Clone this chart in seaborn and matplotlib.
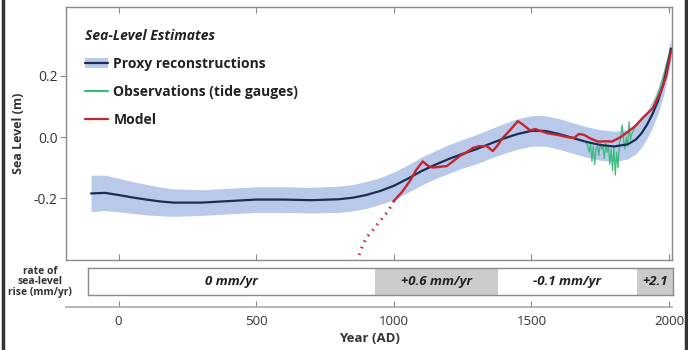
import numpy as np
import pandas as pd
import matplotlib
matplotlib.use("Agg")
import matplotlib.pyplot as plt
import seaborn as sns
from matplotlib.lines import Line2D
from matplotlib.patches import Patch

# ---------------- data ----------------
proxy_years = [-100, -50, 0, 50, 100, 150, 200, 300, 400, 500, 600, 700, 800, 850,
               900, 950, 1000, 1050, 1100, 1150, 1200, 1250, 1300, 1350, 1400,
               1450, 1500, 1550, 1600, 1650, 1700, 1750, 1800, 1850, 1880, 1900,
               1920, 1940, 1960, 1980, 2000, 2007]
proxy_level = [-0.185, -0.183, -0.19, -0.198, -0.205, -0.211, -0.215, -0.215, -0.21,
               -0.205, -0.205, -0.207, -0.204, -0.199, -0.19, -0.177, -0.16, -0.137,
               -0.112, -0.091, -0.072, -0.055, -0.04, -0.022, -0.005, 0.01, 0.02,
               0.02, 0.01, -0.003, -0.016, -0.026, -0.031, -0.024, -0.008, 0.012,
               0.04, 0.075, 0.118, 0.175, 0.255, 0.29]
proxy_halfwidth = [0.06, 0.058, 0.055, 0.052, 0.05, 0.047, 0.045, 0.042, 0.042,
                   0.042, 0.042, 0.042, 0.043, 0.043, 0.044, 0.044, 0.045, 0.045,
                   0.046, 0.046, 0.047, 0.047, 0.048, 0.048, 0.049, 0.05, 0.05,
                   0.05, 0.05, 0.05, 0.05, 0.05, 0.05, 0.048, 0.047, 0.046,
                   0.045, 0.044, 0.042, 0.04, 0.038, 0.035]

model_dotted_years = [858, 880, 900, 920, 937, 955, 973, 988, 1000]
model_dotted_level = [-0.43, -0.37, -0.33, -0.31, -0.29, -0.27, -0.25, -0.23, -0.21]

model_years = [1000, 1030, 1058, 1080, 1105, 1125, 1142, 1165, 1193, 1215, 1240,
               1265, 1287, 1310, 1338, 1360, 1375, 1396, 1420, 1451, 1470, 1495,
               1515, 1532, 1560, 1600, 1630, 1655, 1673, 1691, 1715, 1742, 1770,
               1793, 1825, 1855, 1880, 1902, 1920, 1942, 1971, 1990, 2000, 2007]
model_level = [-0.21, -0.18, -0.145, -0.11, -0.08, -0.095, -0.10, -0.098, -0.095,
               -0.08, -0.062, -0.05, -0.036, -0.03, -0.03, -0.046, -0.03, -0.003,
               0.02, 0.052, 0.04, 0.022, 0.026, 0.02, 0.012, 0.006, 0.0, -0.003,
               0.01, 0.007, -0.005, -0.015, -0.014, -0.015, 0.0, 0.02, 0.038, 0.06,
               0.076, 0.095, 0.15, 0.2, 0.245, 0.28]

obs_years = [1700, 1705, 1710, 1715, 1720, 1725, 1730, 1735, 1740, 1745, 1750,
             1755, 1760, 1765, 1770, 1775, 1780, 1785, 1790, 1795, 1800, 1805,
             1810, 1815, 1820, 1825, 1830, 1835, 1840, 1845, 1850, 1855, 1860,
             1865, 1870, 1875, 1880, 1890, 1900, 1920, 1940, 1960, 1980, 2000]
obs_level = [-0.02, -0.03, -0.05, -0.02, -0.08, -0.03, -0.09, -0.04, -0.03, -0.06,
             -0.02, -0.04, -0.03, -0.07, -0.02, -0.05, -0.03, -0.09, -0.04, -0.11,
             -0.03, -0.125, -0.05, -0.10, -0.02, 0.0, 0.04, -0.01, -0.04, 0.0,
             -0.03, 0.05, -0.01, 0.01, 0.02, 0.03, 0.04, 0.05, 0.06, 0.075, 0.095,
             0.14, 0.2, 0.27]

rate_labels = ["0 mm/yr", "+0.6 mm/yr", "-0.1 mm/yr", "+2.1"]
rate_starts = [-111, 931, 1375, 1880]
rate_ends = [931, 1375, 1880, 2011]
rate_shaded = [False, True, False, True]

year_ticks = [0, 500, 1000, 1500, 2000]
level_ticks = [-0.2, 0.0, 0.2]
level_ticklabels = ["-0.2", "0.0", "0.2"]

# ---------------- style ----------------
sns.set_theme(style="white")
plt.rcParams["font.family"] = ["Open Sans", "DejaVu Sans"]

NAVY = "#1b2d55"
BAND = "#b9c9e9"
RED = "#c4262e"
GREEN = "#3dbb7e"
GRAY_FILL = "#cbcbcb"
SPINE = "#8a8a8a"
TXT = "#333333"

fig = plt.figure(figsize=(6.88, 3.5), dpi=100)
W, H = 688.0, 350.0

def box(l, t, r, b):
    return [l / W, 1 - b / H, (r - l) / W, (b - t) / H]

XMIN, XMAX = -191, 2011

# ---------------- main axes ----------------
ax = fig.add_axes(box(66, 7, 672, 260))
proxy = pd.DataFrame({"year": proxy_years, "level": proxy_level,
                      "hw": proxy_halfwidth})
ax.fill_between(proxy["year"], proxy["level"] - proxy["hw"],
                proxy["level"] + proxy["hw"], color=BAND, lw=0, zorder=1)

obs = pd.DataFrame({"year": obs_years, "level": obs_level})
sns.lineplot(data=obs, x="year", y="level", ax=ax, color=GREEN, lw=0.9, zorder=2)
sns.lineplot(data=proxy, x="year", y="level", ax=ax, color=NAVY, lw=1.6, zorder=3)
mdot = pd.DataFrame({"year": model_dotted_years, "level": model_dotted_level})
sns.lineplot(data=mdot, x="year", y="level", ax=ax, color=RED, lw=2.2,
             linestyle=(0, (0.5, 1.8)), zorder=4)
model = pd.DataFrame({"year": model_years, "level": model_level})
sns.lineplot(data=model, x="year", y="level", ax=ax, color=RED, lw=1.7, zorder=4)

ax.set_xlim(XMIN, XMAX)
ax.set_ylim(-0.403, 0.426)
ax.set_xticks(year_ticks)
ax.set_xticklabels([])
ax.set_yticks(level_ticks)
ax.set_yticklabels(level_ticklabels, fontsize=10, color=TXT)
ax.tick_params(axis="x", which="both", direction="in", length=4, color=SPINE,
               top=True, bottom=True, width=0.8)
ax.tick_params(axis="y", direction="out", length=4, color=SPINE, left=True,
               width=0.8, pad=2)
for s in ax.spines.values():
    s.set_color(SPINE)
    s.set_linewidth(1.0)
ax.set_xlabel("")
ax.set_ylabel("Sea Level (m)", fontsize=9, fontweight="bold", color=TXT,
              labelpad=6)

handles = [(Patch(facecolor=BAND, edgecolor="none"),
            Line2D([], [], color=NAVY, lw=1.6)),
           Line2D([], [], color=GREEN, lw=1.6),
           Line2D([], [], color=RED, lw=1.6)]
labels = ["Proxy reconstructions", "Observations (tide gauges)", "Model"]
leg = ax.legend(handles, labels, loc="upper left", bbox_to_anchor=(0.031, 0.912),
                frameon=False, title="Sea-Level Estimates", borderpad=0,
                borderaxespad=0,
                prop={"weight": "bold", "size": 10}, labelspacing=1.0,
                handlelength=1.65, handletextpad=0.4, alignment="left",
                title_fontproperties={"weight": "bold", "style": "italic",
                                      "size": 10})
for t in leg.get_texts():
    t.set_color("#222222")
leg.get_title().set_color("#222222")

# ---------------- rate strip ----------------
ax2 = fig.add_axes(box(88, 268, 673, 295))
ax2.set_xlim(-111, 2011)
ax2.set_ylim(0, 1)
for lab, x0, x1, sh in zip(rate_labels, rate_starts, rate_ends, rate_shaded):
    if sh:
        ax2.axvspan(x0, x1, color=GRAY_FILL, lw=0)
    ax2.text((x0 + x1) / 2, 0.5, lab, ha="center", va="center", fontsize=9.5,
             fontweight="bold", style="italic", color="#222222")
ax2.set_xticks([])
ax2.set_yticks([])
for s in ax2.spines.values():
    s.set_color(SPINE)
    s.set_linewidth(1.0)

fig.text(40 / W, 1 - 282 / H, "rate of\nsea-level\nrise (mm/yr)", ha="center",
         va="center", fontsize=7.5, fontweight="bold", color=TXT,
         linespacing=1.0)

# ---------------- year axis ----------------
ax3 = fig.add_axes(box(66, 300, 672, 307))
ax3.set_xlim(XMIN, XMAX)
ax3.set_ylim(0, 1)
ax3.patch.set_alpha(0)
for k in ["top", "left", "right"]:
    ax3.spines[k].set_visible(False)
ax3.spines["bottom"].set_color("#aaaaaa")
ax3.spines["bottom"].set_linewidth(1.2)
ax3.set_yticks([])
ax3.set_xticks(year_ticks)
ax3.set_xticklabels([str(v) for v in year_ticks], fontsize=9.5, color=TXT)
ax3.tick_params(axis="x", direction="in", length=4, color=SPINE, pad=6,
                bottom=True, width=0.8)
ax3.set_xlabel("Year (AD)", fontsize=9.5, fontweight="bold", color=TXT,
               labelpad=3)

# frame lines at figure edges
fig.add_artist(Line2D([2.5 / W, 2.5 / W], [0, 1], color="#333333", lw=2.5,
                      transform=fig.transFigure))
fig.add_artist(Line2D([686 / W, 686 / W], [0, 1], color="#333333", lw=2.5,
                      transform=fig.transFigure))

fig.savefig("out.png", dpi=100)
